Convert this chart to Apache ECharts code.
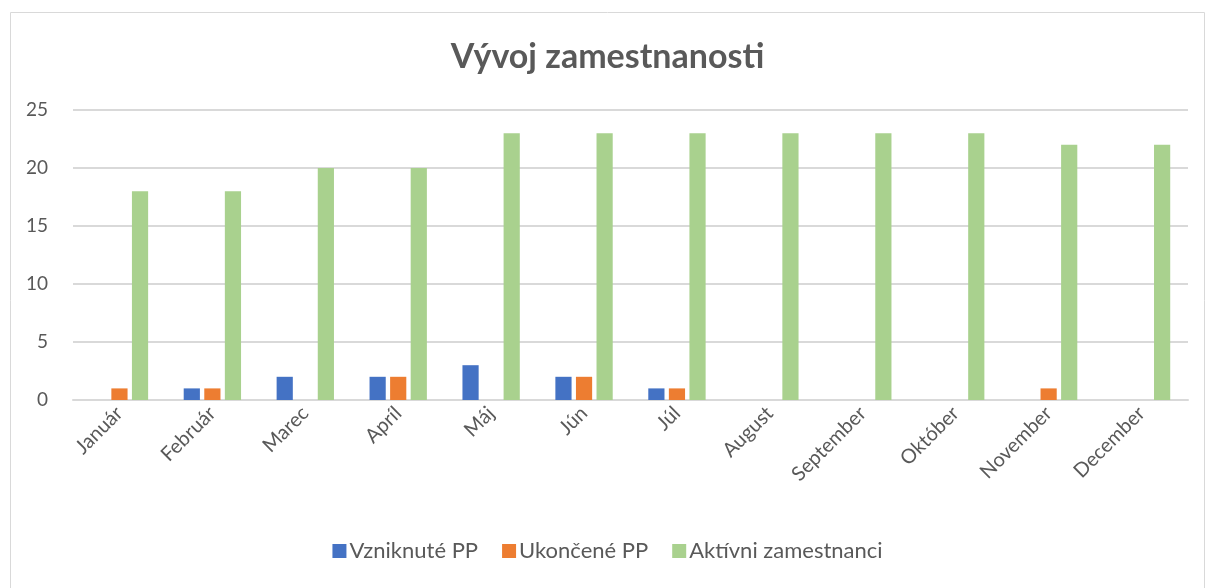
<!DOCTYPE html>
<html><head><meta charset="utf-8">
<script src="https://cdn.jsdelivr.net/npm/echarts@6/dist/echarts.min.js"></script>
<style>html,body{margin:0;padding:0;background:#fff}#c{width:1215px;height:588px}</style>
</head><body><div id="c"></div>
<script>
const categories = ['Január','Február','Marec','Apríl','Máj','Jún','Júl','August','September','Október','November','December'];
const vzniknute = [0,1,2,2,3,2,1,0,0,0,0,0];
const ukoncene = [1,1,0,2,0,2,1,0,0,0,1,0];
const aktivni = [18,18,20,20,23,23,23,23,23,23,22,22];
const yTicks = [0,5,10,15,20,25];
const seriesNames = ['Vzniknuté PP','Ukončené PP','Aktívni zamestnanci'];
const colors = ['#4472C4','#ED7D31','#A9D18E'];
const FONT = 'Lato';
const chart = echarts.init(document.getElementById('c'));
const mk = (name, data, color) => ({name, type:'bar', data, barWidth:16.2, barGap:'27%',
  itemStyle:{color}, emphasis:{disabled:true}});
chart.setOption({
  animation:false,
  textStyle:{fontFamily:FONT},
  graphic:[{type:'rect', shape:{x:10.5,y:12.5,width:1194,height:580}, style:{fill:null, stroke:'#d9d9d9', lineWidth:1}, silent:true}],
  title:{text:'Vývoj zamestnanosti', left:'center', top:35, textStyle:{fontFamily:FONT, fontSize:34, fontWeight:'bold', color:'#595959'}},
  grid:{left:73, right:27, top:110, bottom:188, containLabel:false},
  legend:{bottom:21, left:'center', itemWidth:14, itemHeight:14, itemGap:24, icon:'rect',
    textStyle:{fontFamily:FONT, fontSize:22, color:'#595959', padding:[0,0,0,-2]},
    data:seriesNames},
  xAxis:{type:'category', data:categories,
    axisLine:{lineStyle:{color:'#d9d9d9', width:2}}, axisTick:{show:false},
    axisLabel:{rotate:45, fontFamily:FONT, fontSize:20, color:'#595959', margin:10, interval:0}},
  yAxis:{type:'value', min:yTicks[0], max:yTicks[yTicks.length-1], interval:5,
    axisLine:{show:false}, axisTick:{show:false},
    splitLine:{lineStyle:{color:'#d9d9d9', width:2}},
    axisLabel:{fontFamily:FONT, fontSize:19, color:'#595959', margin:25}},
  series:[mk(seriesNames[0], vzniknute, colors[0]), mk(seriesNames[1], ukoncene, colors[1]), mk(seriesNames[2], aktivni, colors[2])]
});
</script></body></html>
